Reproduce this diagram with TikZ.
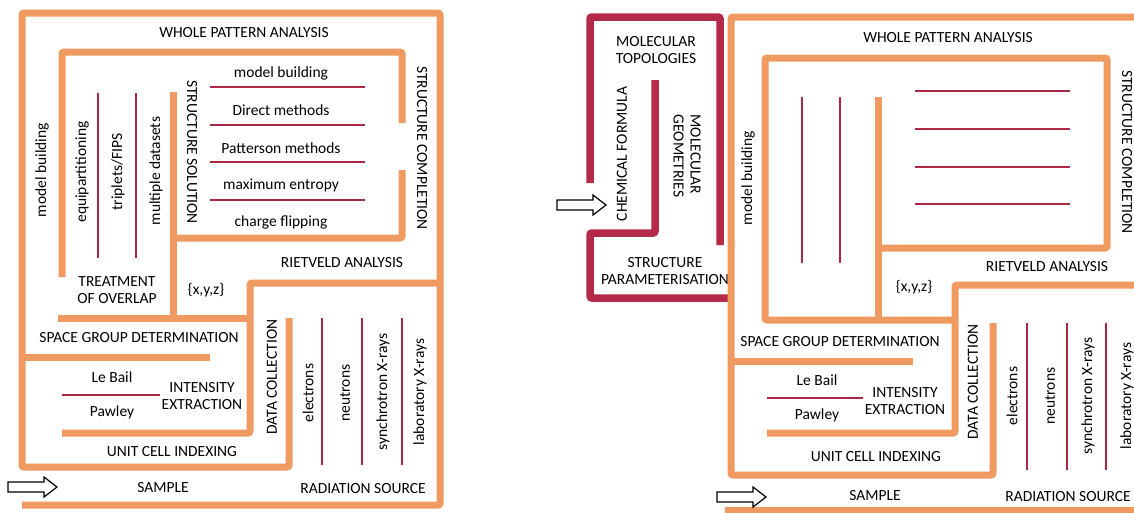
\documentclass[tikz,border=0pt]{standalone}
\usepackage{fontspec}
\setmainfont{Carlito}
\usepackage{tikz}
\usepackage{xcolor}
\definecolor{wallcol}{RGB}{238,154,96}
\definecolor{rodcol}{RGB}{170,40,66}
\definecolor{framecol}{RGB}{180,42,72}

\begin{document}
\begin{tikzpicture}[x=1pt,y=-1pt,
    wall/.style={draw=wallcol,line width=7pt,rounded corners=2pt},
    molframe/.style={draw=framecol,line width=7.5pt,rounded corners=2pt},
    rod/.style={draw=rodcol,line width=2.6pt},
    lab/.style={font=\fontsize{15.5}{17}\selectfont,inner sep=0pt},
    blockarrow/.style={draw=black,line width=1.2pt,fill=white,line join=miter}]
    \fill[white] (0,0) rectangle (1134,512);
    \useasboundingbox (0,0) rectangle (1134,512);
    %%%%%%%%%%%%%%%%%%%%%%%%%%%%%%%%%%
    % panneau gauche
    \node[lab] (wpaL) at (244,33) {WHOLE PATTERN ANALYSIS};
    \node[lab,rotate=90] (mbL) at (42,170) {model building};
    \node[lab,rotate=90] (eqL) at (82,172) {equipartitioning};
    \node[lab,rotate=90] (tfL) at (118,172) {triplets/FIPS};
    \node[lab,rotate=90] (mdL) at (156,171) {multiple datasets};
    \node[lab,rotate=-90] (ssL) at (192,152) {STRUCTURE SOLUTION};
    \node[lab,rotate=-90] (scL) at (422,148) {STRUCTURE COMPLETION};
    \node[lab] (m1L) at (281,73) {model building};
    \node[lab] (m2L) at (281,110) {Direct methods};
    \node[lab] (m3L) at (281,148) {Patterson methods};
    \node[lab] (m4L) at (281,185) {maximum entropy};
    \node[lab] (m5L) at (281,222) {charge flipping};
    \node[lab] (raL) at (342,263) {RIETVELD ANALYSIS};
    \node[lab,align=center] (toL) at (117,290) {TREATMENT\\OF OVERLAP};
    \node[lab] (xyzL) at (206,290) {\{x,y,z\}};
    \node[lab] (sgL) at (139,338) {SPACE GROUP DETERMINATION};
    \node[lab] (lbL) at (112,377) {Le Bail};
    \node[lab] (pwL) at (112,412) {Pawley};
    \node[lab,align=center] (ieL) at (202,396) {INTENSITY\\EXTRACTION};
    \node[lab] (ucL) at (172,452) {UNIT CELL INDEXING};
    \node[lab,rotate=90] (dcL) at (272,377) {DATA COLLECTION};
    \node[lab,rotate=90] (elL) at (308,393) {electrons};
    \node[lab,rotate=90] (neL) at (345,393) {neutrons};
    \node[lab,rotate=90] (syL) at (383,392) {synchrotron X-rays};
    \node[lab,rotate=90] (laL) at (420,392) {laboratory X-rays};
    \node[lab] (saL) at (163,488) {SAMPLE};
    \node[lab] (rsL) at (363,489) {RADIATION SOURCE};
    %%%%%%%%%%%%%%%%%%%%%%%%%%%%%%%%%%
    \draw[wall] (22,505) -- (440,505) -- (440,13) -- (22,13) -- (22,467) -- (289,467) -- (289,318); % cadre
    \draw[wall] (440,283) -- (250,283) -- (250,433) -- (62,433); % Rietveld
    \draw[wall] (22,357) -- (210,357); % space group
    \draw[wall] (58,318) -- (250,318); % overlap
    \draw[wall] (173,92) -- (173,318); % multiple datasets
    \draw[wall] (173,238) -- (402,238) -- (402,170);
    \draw[wall] (62,277) -- (62,52) -- (402,52) -- (402,123);
    \foreach \x in {98,136} \draw[rod] (\x,93) -- (\x,258);
    \foreach \y in {87,125,162,200} \draw[rod] (210,\y) -- (365,\y);
    \draw[rod] (62,395) -- (160,395); % Le Bail / Pawley
    \foreach \x in {322,362,402} \draw[rod] (\x,318) -- (\x,465);
    %%%%%%%%%%%%%%%%%%%%%%%%%%%%%%%%%%
    % panneau droit
    \node[lab] (wpaR) at (948,38) {WHOLE PATTERN ANALYSIS};
    \node[lab,rotate=90] (mbR) at (748,178) {model building};
    \node[lab,rotate=-90] (scR) at (1127,152) {STRUCTURE COMPLETION};
    \node[lab] (raR) at (1047,267) {RIETVELD ANALYSIS};
    \node[lab] (xyzR) at (914,287) {\{x,y,z\}};
    \node[lab,align=center] (mtR) at (656,50) {MOLECULAR\\TOPOLOGIES};
    \node[lab,rotate=90] (cfR) at (622,154) {CHEMICAL FORMULA};
    \node[lab,rotate=-90,align=left] (mgR) at (687,156) {MOLECULAR\\GEOMETRIES};
    \node[lab,align=center] (spR) at (665,271) {STRUCTURE\\PARAMETERISATION};
    \node[lab] (sgR) at (840,342) {SPACE GROUP DETERMINATION};
    \node[lab] (lbR) at (817,380) {Le Bail};
    \node[lab] (pwR) at (817,415) {Pawley};
    \node[lab,align=center] (ieR) at (905,401) {INTENSITY\\EXTRACTION};
    \node[lab] (ucR) at (876,457) {UNIT CELL INDEXING};
    \node[lab,rotate=90] (dcR) at (973,382) {DATA COLLECTION};
    \node[lab,rotate=90] (elR) at (1012,396) {electrons};
    \node[lab,rotate=90] (neR) at (1050,396) {neutrons};
    \node[lab,rotate=90] (syR) at (1088,396) {synchrotron X-rays};
    \node[lab,rotate=90] (laR) at (1127,396) {laboratory X-rays};
    \node[lab] (saR) at (875,496) {SAMPLE};
    \node[lab] (rsR) at (1068,497) {RADIATION SOURCE};
    %%%%%%%%%%%%%%%%%%%%%%%%%%%%%%%%%%
    \draw[molframe] (590,183) -- (590,17) -- (720,17) -- (720,245); % topologies
    \draw[molframe] (655,80) -- (655,233) -- (590,233) -- (590,298) -- (731,298); % geometries
    \draw[wall] (1140,17) -- (731,17) -- (731,475) -- (993,475) -- (993,323); % cadre
    \draw[wall] (725,510) -- (1140,510);
    \draw[wall] (731,361) -- (913,361); % space group
    \draw[wall] (878,248) -- (1107,248) -- (1107,58) -- (765,58) -- (765,320) -- (955,320);
    \draw[wall] (1140,285) -- (955,285) -- (955,433) -- (767,433); % Rietveld
    \draw[wall] (878,97) -- (878,320);
    \foreach \x in {802,840} \draw[rod] (\x,97) -- (\x,263);
    \foreach \y in {91,129,167,204} \draw[rod] (915,\y) -- (1070,\y);
    \draw[rod] (767,398) -- (863,398); % Le Bail / Pawley
    \foreach \x in {1027,1067,1106} \draw[rod] (\x,323) -- (\x,470);
    %%%%%%%%%%%%%%%%%%%%%%%%%%%%%%%%%%
    % fleches d'entree
    \foreach \dx/\dy in {0/0,709/10,549/-282}
      \draw[blockarrow,shift={(\dx,\dy)}] (8,482) -- (44,482) -- (44,477) -- (57,487) -- (44,497) -- (44,492) -- (8,492) -- cycle;
\end{tikzpicture}
\end{document}
